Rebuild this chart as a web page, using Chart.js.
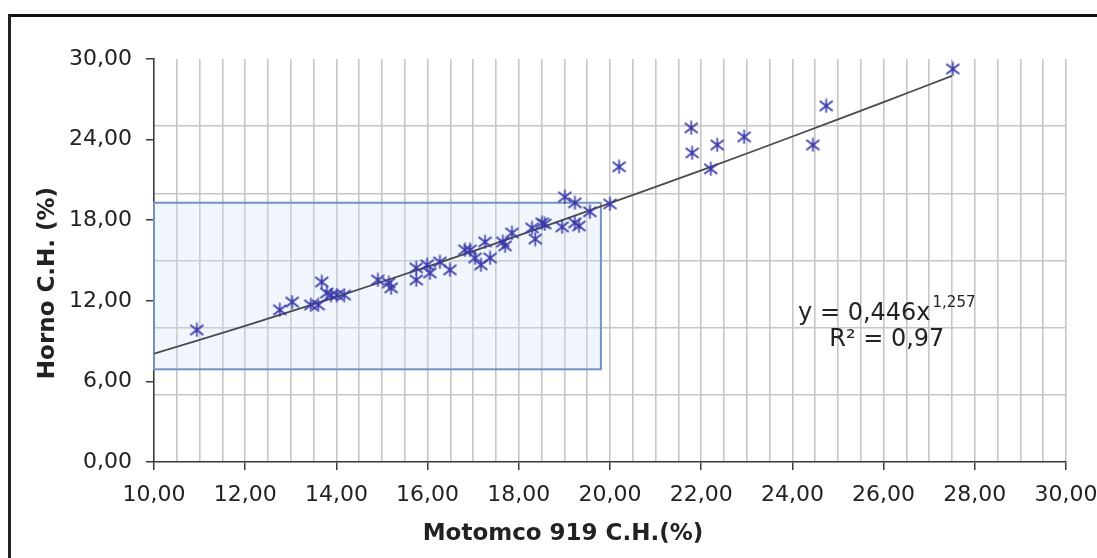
<!DOCTYPE html>
<html>
<head>
<meta charset="utf-8">
<script src="https://cdn.jsdelivr.net/npm/chart.js@4.4.1/dist/chart.umd.min.js"></script>
<style>
  html, body { margin: 0; padding: 0; background: #fff; overflow: hidden; }
  #wrap { position: relative; width: 1097px; height: 558px; }
  #frame { position: absolute; left: 8px; top: 14px; width: 1089px; height: 544px;
           border-top: 3px solid #111; border-left: 3px solid #222; box-sizing: border-box; pointer-events: none; }
</style>
</head>
<body>
<div id="wrap">
  <canvas id="chart" width="1097" height="558"></canvas>
  <div id="frame"></div>
</div>
<script>
// Motomco 919 reading vs oven reading (C.H. %)
const motomcoCH = [10.94, 12.76, 13.03, 13.44, 13.60, 13.68, 13.79, 13.88, 14.01, 14.17,
                   14.91, 15.15, 15.20, 15.75, 15.75, 15.99, 16.05, 16.27, 16.49, 16.82,
                   16.93, 17.04, 17.17, 17.26, 17.37, 17.65, 17.70, 17.85, 18.29, 18.36,
                   18.51, 18.57, 18.95, 19.01, 19.23, 19.23, 19.32, 19.56, 20.00, 20.20,
                   21.78, 21.80, 22.21, 22.35, 22.94, 24.45, 24.74, 27.52];
const hornoCH = [9.83, 11.32, 11.91, 11.69, 11.69, 13.40, 12.58, 12.43, 12.43, 12.43,
                 13.55, 13.33, 12.96, 14.45, 13.55, 14.67, 14.07, 14.89, 14.30, 15.79,
                 15.79, 15.19, 14.67, 16.38, 15.19, 16.38, 16.08, 17.05, 17.42, 16.60,
                 17.80, 17.72, 17.50, 19.73, 19.29, 17.80, 17.57, 18.62, 19.21, 21.97,
                 24.87, 23.01, 21.82, 23.60, 24.20, 23.60, 26.51, 29.26];

// power trend line (y = 0,446x^1,257) read along its length
const trendX = [10, 12, 14, 16, 18, 20, 22, 24, 26, 27.5];
const trendY = [8.06, 10.14, 12.30, 14.55, 16.87, 19.27, 21.71, 24.23, 26.79, 28.75];

// highlighted range
const boxX = [10, 19.8];
const boxY = [6.9, 19.3];

const xTitle = "Motomco 919 C.H.(%)";
const yTitle = "Horno C.H. (%)";
const eqMain = "y = 0,446x";
const eqExp = "1,257";
const eqR2 = "R² = 0,97";

const fmt = v => v.toFixed(2).replace(".", ",");
const gridColor = "#c6c6c6";
const axisColor = "#3a3a3a";
const font = "'DejaVu Sans', sans-serif";

// asterisk marker
const star = document.createElement("canvas");
star.width = 15; star.height = 15;
(function () {
  const c = star.getContext("2d");
  c.strokeStyle = "#3838a8";
  c.lineWidth = 1.6;
  c.beginPath();
  c.moveTo(7.5, 0.5); c.lineTo(7.5, 14.5);
  c.moveTo(1, 2.5); c.lineTo(14, 12.5);
  c.moveTo(14, 2.5); c.lineTo(1, 12.5);
  c.stroke();
})();

const extras = {
  id: "extras",
  beforeDatasetsDraw(chart) {
    const { ctx, scales: { x, y } } = chart;
    const l = x.getPixelForValue(boxX[0]), r = x.getPixelForValue(boxX[1]);
    const t = y.getPixelForValue(boxY[1]), b = y.getPixelForValue(boxY[0]);
    ctx.save();
    ctx.fillStyle = "rgba(205,222,245,0.28)";
    ctx.fillRect(l, t, r - l, b - t);
    ctx.strokeStyle = "#7294c4";
    ctx.lineWidth = 2;
    ctx.strokeRect(l, t, r - l, b - t);
    ctx.restore();
  },
  afterDraw(chart) {
    const { ctx, scales: { x, y } } = chart;
    ctx.save();
    ctx.fillStyle = "#222";
    // axis titles
    ctx.font = "bold 23px " + font;
    ctx.textAlign = "center";
    ctx.textBaseline = "alphabetic";
    ctx.fillText(xTitle, 563, 540);
    ctx.save();
    ctx.translate(54, 283);
    ctx.rotate(-Math.PI / 2);
    ctx.fillText(yTitle, 0, 0);
    ctx.restore();
    // equation
    const cx = x.getPixelForValue(26.07);
    ctx.font = "24px " + font;
    const w1 = ctx.measureText(eqMain).width;
    ctx.font = "15px " + font;
    const w2 = ctx.measureText(eqExp).width;
    const sx = cx - (w1 + w2 + 2) / 2;
    ctx.textAlign = "left";
    ctx.font = "24px " + font;
    ctx.fillText(eqMain, sx, 320);
    ctx.font = "15px " + font;
    ctx.fillText(eqExp, sx + w1 + 2, 307);
    ctx.font = "24px " + font;
    ctx.textAlign = "center";
    ctx.fillText(eqR2, cx, 346);
    ctx.restore();
  }
};

new Chart(document.getElementById("chart").getContext("2d"), {
  type: "scatter",
  data: {
    datasets: [
      {
        label: "Motomco vs Horno",
        data: motomcoCH.map((v, i) => ({ x: v, y: hornoCH[i] })),
        pointStyle: star,
        pointRadius: 7,
        order: 1
      },
      {
        type: "line",
        label: "Potencial",
        data: trendX.map((v, i) => ({ x: v, y: trendY[i] })),
        borderColor: "#4a4a4a",
        borderWidth: 1.8,
        pointRadius: 0,
        fill: false,
        tension: 0.3,
        order: 2
      }
    ]
  },
  options: {
    responsive: false,
    animation: false,
    layout: { padding: { top: 59, right: 31, left: 0, bottom: 0 } },
    plugins: { legend: { display: false }, tooltip: { enabled: false } },
    scales: {
      xg: {
        type: "linear", position: "bottom", min: 10, max: 30,
        ticks: { display: false, stepSize: 0.5 },
        grid: { color: c => c.tick.value > 10 ? gridColor : "rgba(0,0,0,0)", lineWidth: 1.6, drawTicks: false },
        border: { display: false },
        afterFit: s => { s.height = 0; s.paddingLeft = 0; s.paddingRight = 0; }
      },
      yg: {
        type: "linear", position: "left", min: 0, max: 30,
        ticks: { display: false, stepSize: 5 },
        grid: { color: c => (c.tick.value > 0 && c.tick.value < 30) ? gridColor : "rgba(0,0,0,0)", lineWidth: 1.6, drawTicks: false },
        border: { display: false },
        afterFit: s => { s.width = 0; s.paddingTop = 0; s.paddingBottom = 0; }
      },
      x: {
        type: "linear", position: "bottom", min: 10, max: 30,
        ticks: { stepSize: 2, callback: fmt, color: "#222", padding: 12, maxRotation: 0,
                 font: { family: font, size: 22 } },
        grid: { drawOnChartArea: false, color: axisColor, tickLength: 8, lineWidth: 1.5 },
        border: { color: axisColor, width: 1.6 },
        afterFit: s => { s.height = 96; s.paddingLeft = 0; s.paddingRight = 0; }
      },
      y: {
        type: "linear", position: "left", min: 0, max: 30,
        ticks: { stepSize: 6, callback: fmt, color: "#222", padding: 14,
                 font: { family: font, size: 22 } },
        grid: { drawOnChartArea: false, color: axisColor, tickLength: 8, lineWidth: 1.5 },
        border: { color: axisColor, width: 1.6 },
        afterFit: s => { s.width = 154; s.paddingTop = 0; s.paddingBottom = 0; }
      }
    }
  },
  plugins: [extras]
});
</script>
</body>
</html>
